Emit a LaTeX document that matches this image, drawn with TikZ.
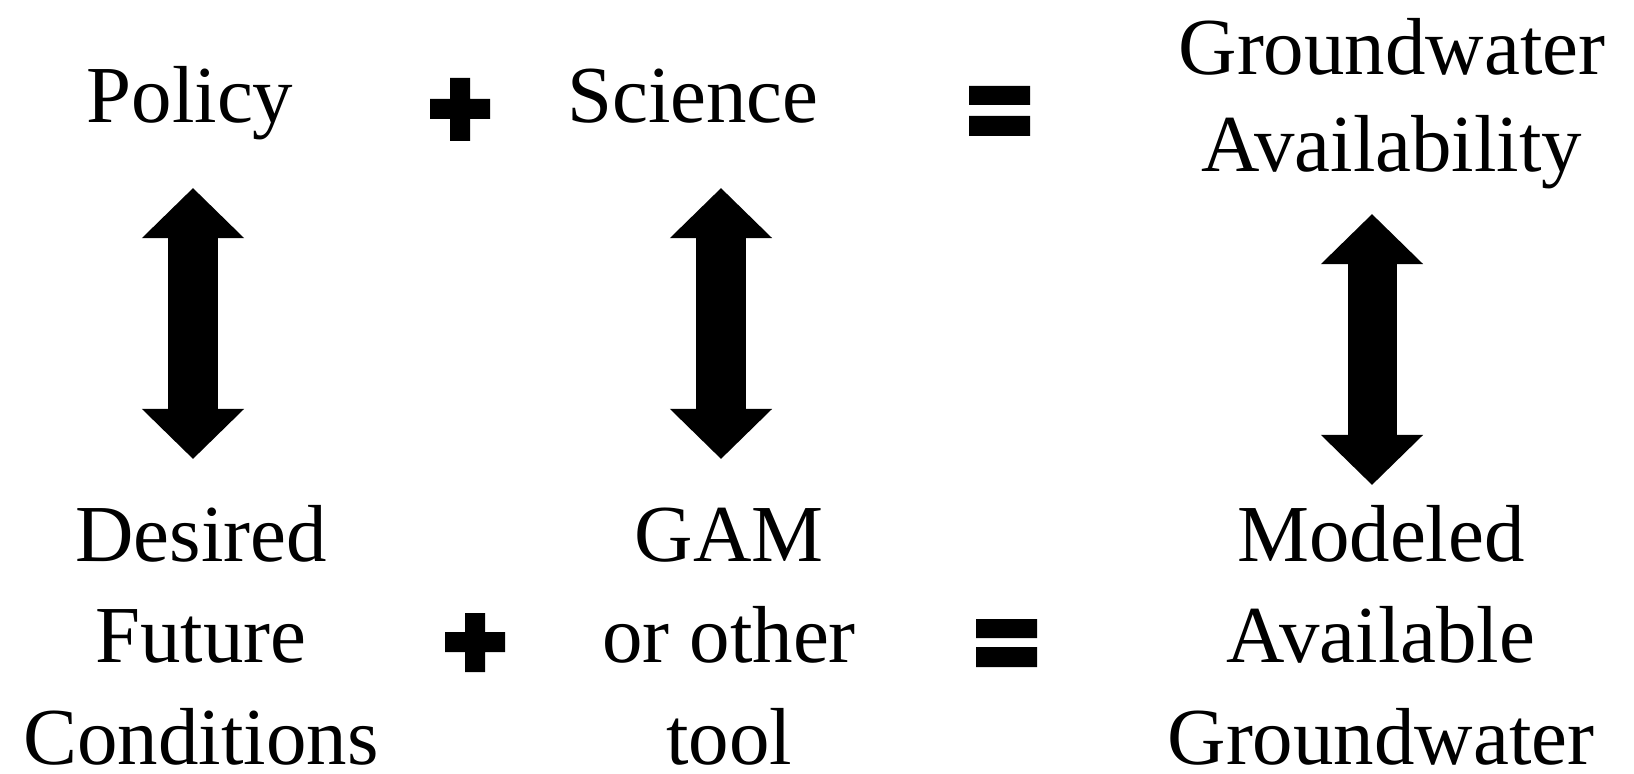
\documentclass[tikz,border=0pt]{standalone}
\usepackage{fontspec}
\setmainfont{Liberation Serif}
\usetikzlibrary{arrows.meta}

\tikzset{
  lbl/.style={anchor=base, inner sep=0pt, align=center,
    font=\fontsize{23}{28.8}\selectfont},
  twoway/.style={line width=0.49cm,
    {Triangle[width=0.99cm,length=0.5cm]}-{Triangle[width=0.99cm,length=0.5cm]}},
}

\begin{document}
\begin{tikzpicture}[x=0.01cm,y=-0.01cm]
  \useasboundingbox (0,0) rectangle (1634,773);

  % top row (base = last line)
  \node[lbl] (policy)  at (190,123) {Policy};
  \node[lbl] (science) at (693,123) {Science};
  \node[lbl, font=\fontsize{23}{27.6}\selectfont] (gwa) at (1392,172) {Groundwater\\Availability};

  % bottom row
  \node[lbl] (dfc) at (201,764) {Desired\\Future\\Conditions};
  \node[lbl] (gam) at (729,764) {GAM\\or other\\tool};
  \node[lbl] (mag) at (1381,764) {Modeled\\Available\\Groundwater};

  % plus and equals signs
  \fill (430,99) rectangle (490,119)  (450,78) rectangle (470,141);
  \fill (445,632) rectangle (505,652) (465,613) rectangle (485,672);
  \fill (969,86) rectangle (1030,105)  (969,116) rectangle (1030,136);
  \fill (976,619) rectangle (1037,638) (976,647) rectangle (1037,667);

  % two-way arrows
  \coordinate (a1top) at (193,188);  \coordinate (a1bot) at (193,459);
  \coordinate (a2top) at (721,188);  \coordinate (a2bot) at (721,459);
  \coordinate (a3top) at (1372,214); \coordinate (a3bot) at (1372,485);
  \draw[twoway] (a1top) -- (a1bot);
  \draw[twoway] (a2top) -- (a2bot);
  \draw[twoway] (a3top) -- (a3bot);
\end{tikzpicture}
\end{document}
